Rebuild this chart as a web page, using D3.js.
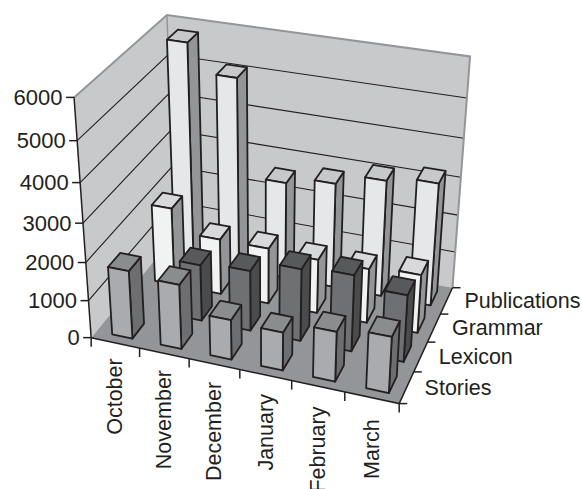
<!DOCTYPE html>
<html>
<head>
<meta charset="utf-8">
<style>html,body{margin:0;padding:0;background:#fff}svg{display:block}text{font-family:"Liberation Sans",Arial,sans-serif;font-size:22px;fill:#231f20}text.series{font-size:21.5px}text.month{font-size:21.5px}</style>
<script src="https://cdn.jsdelivr.net/npm/d3@7"></script>
</head>
<body>
<script>
const months = ["October","November","December","January","February","March"];
const seriesNames = ["Stories","Lexicon","Grammar","Publications"];
const stories = [1800,1700,1050,1000,1300,1450];
const lexicon = [0,1500,1600,1900,2000,1750];
const grammar = [2100,1500,1500,1450,1450,1550];
const publications = [5800,5100,2600,2800,3100,3250];
const valueTicks = [0,1000,2000,3000,4000,5000,6000];

const seriesValues = [stories,lexicon,grammar,publications];
const palette = [
  {front:"#a9abae",top:"#8a8c8e",side:"#6d6e71"},
  {front:"#6f7073",top:"#58595b",side:"#4a4b4d"},
  {front:"#f1f2f2",top:"#d8d9da",side:"#939598"},
  {front:"#e6e7e8",top:"#c7c8ca",side:"#939598"}
];

// Camera calibration: [month axis, series axis, height] -> [screen x, screen y]
const anchors = [
  [[0,0,0],[93,336.7]],[[1,0,0],[399.3,405]],[[1,1,0],[454,286]],[[0,1,0],[172,238]],
  [[0,0,1],[72,98]],[[0,1,1],[170,14]],[[1,1,1],[471,57]],
  [[0,0,5/6],[76.5,141]],[[0,0,4/6],[80,182.7]],[[0,0,3/6],[83,223]],[[0,0,2/6],[86,262]],[[0,0,1/6],[89,300]],
  [[1,1,5/6],[466,98.3]],[[1,1,4/6],[463,138]],[[1,1,3/6],[460,177]]
];

// Least-squares fit of a 3x4 projection with the last coefficient fixed at 1
function fitCamera(pairs){
  const n = 11, N = Array.from({length:n},()=>new Array(n+1).fill(0));
  const add = (row,b)=>{
    for(let i=0;i<n;i++){ for(let j=0;j<n;j++) N[i][j]+=row[i]*row[j]; N[i][n]+=row[i]*b; }
  };
  pairs.forEach(([[u,v,w],[sx,sy]])=>{
    const x=sx/500,y=sy/500;
    add([u,v,w,1,0,0,0,0,-x*u,-x*v,-x*w],x);
    add([0,0,0,0,u,v,w,1,-y*u,-y*v,-y*w],y);
  });
  for(let c=0;c<n;c++){
    let p=c; for(let r=c+1;r<n;r++) if(Math.abs(N[r][c])>Math.abs(N[p][c])) p=r;
    [N[c],N[p]]=[N[p],N[c]];
    for(let r=0;r<n;r++){ if(r===c) continue; const f=N[r][c]/N[c][c]; for(let k=c;k<=n;k++) N[r][k]-=f*N[c][k]; }
  }
  return N.map((r,i)=>r[n]/r[i]);
}
const m = fitCamera(anchors);
function project(u,v,w){
  const d = m[8]*u+m[9]*v+m[10]*w+1;
  return [500*(m[0]*u+m[1]*v+m[2]*w+m[3])/d, 500*(m[4]*u+m[5]*v+m[6]*w+m[7])/d];
}

const width=582,height=489;
const svg=d3.select("body").append("svg").attr("width",width).attr("height",height);

const xBand=d3.scaleBand().domain(months).range([0.006,1.006]).paddingInner(0.58).paddingOuter(0.29);
const zBand=d3.scaleBand().domain(seriesNames).range([0,1]).paddingInner(0.47).paddingOuter(0.235);
const yScale=d3.scaleLinear().domain([0,6000]).range([0,1]);
const path=pts=>d3.line()(pts)+"Z";
const seg=(a,b)=>d3.line()([a,b]);

// Walls and floor
const wallFill="#c8c9cb", edge="#939598", ink="#231f20";
svg.append("path").attr("d",path([project(0,0,0),project(0,1,0),project(0,1,1),project(0,0,1)])).attr("fill",wallFill);
svg.append("path").attr("d",path([project(0,1,0),project(1,1,0),project(1,1,1),project(0,1,1)])).attr("fill",wallFill);
svg.append("path").attr("d",path([project(0,0,0),project(1,0,0),project(1,1,0),project(0,1,0)])).attr("fill",edge);

// Horizontal gridlines running along both walls
valueTicks.filter(t=>t>0&&t<6000).forEach(t=>{
  const w=yScale(t);
  svg.append("path").attr("d",d3.line()([project(0,0,w),project(0,1,w),project(1,1,w)]))
    .attr("fill","none").attr("stroke",ink).attr("stroke-width",1.1);
});
// Upper wall outline
svg.append("path").attr("d",d3.line()([project(0,0,1),project(0,1,1),project(1,1,1),project(1,1,0)]))
  .attr("fill","none").attr("stroke",edge).attr("stroke-width",2);
svg.append("path").attr("d",seg(project(0,1,0),project(0,1,1))).attr("stroke",edge).attr("stroke-width",1.5);

// Bars, painted from the back row forward and from left to right
const barStroke={stroke:ink,"stroke-width":1.8,"stroke-linejoin":"round"};
seriesNames.map((s,j)=>j).reverse().forEach(j=>{
  const v0=zBand(seriesNames[j]), v1=v0+zBand.bandwidth();
  months.forEach((mo,i)=>{
    const val=seriesValues[j][i];
    if(!val) return;
    const u0=xBand(mo),u1=u0+xBand.bandwidth(),h=yScale(val);
    const faces=[
      [[project(u1,v0,0),project(u1,v1,0),project(u1,v1,h),project(u1,v0,h)],palette[j].side],
      [[project(u0,v0,h),project(u1,v0,h),project(u1,v1,h),project(u0,v1,h)],palette[j].top],
      [[project(u0,v0,0),project(u1,v0,0),project(u1,v0,h),project(u0,v0,h)],palette[j].front]
    ];
    faces.forEach(([pts,fill])=>{
      const f=svg.append("path").attr("d",path(pts)).attr("fill",fill);
      Object.entries(barStroke).forEach(([k,val2])=>f.attr(k,val2));
    });
  });
});

// Axis lines
const axisPath=(d)=>svg.append("path").attr("d",d).attr("fill","none").attr("stroke",ink).attr("stroke-width",1.5);
axisPath(seg(project(0,0,0),project(0,0,1)));
axisPath(d3.line()([project(0,0,0),project(1,0,0),project(1,1,0)]));

// Value axis
valueTicks.forEach(t=>{
  const [x,y]=project(0,0,yScale(t));
  axisPath(seg([x-8,y],[x,y]));
  svg.append("text").attr("x",x-11.5).attr("y",y+7.5).attr("text-anchor","end").text(d3.format("d")(t));
});

// Month axis, with ticks on band boundaries and labels read upward
const monthStep=1/months.length;
months.forEach((mo,i)=>{
  const [x,y]=project(i*monthStep,0,0);
  axisPath(seg([x,y],[x,y+9]));
  if(i===months.length-1){ const e=project(1,0,0); axisPath(seg(e,[e[0],e[1]+9])); }
  const c=project((i+.5)*monthStep,0,0);
  svg.append("text").attr("class","month").attr("transform",`translate(${c[0]+7},${c[1]+15.5+i*1.2}) rotate(-90)`)
    .attr("text-anchor","end").text(mo);
});

// Series axis
const seriesStep=zBand.step();
seriesNames.forEach((s,j)=>{
  const [x,y]=project(1,j*seriesStep,0);
  axisPath(seg([x,y],[x+8,y]));
  if(j===seriesNames.length-1){ const e=project(1,1,0); axisPath(seg(e,[e[0]+8,e[1]])); }
  const c=project(1,(j+.5)*seriesStep,0);
  svg.append("text").attr("class","series").attr("x",c[0]+18).attr("y",c[1]+7.5).text(s);
});
</script>
</body>
</html>
